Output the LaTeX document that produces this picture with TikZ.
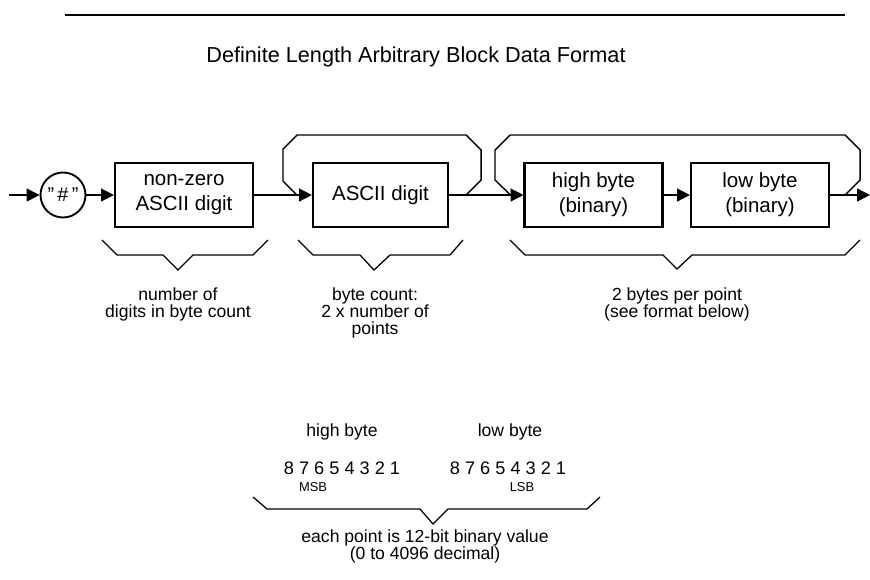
\documentclass[tikz,border=0pt]{standalone}
\usepackage{fontspec}
\setmainfont{Liberation Sans}
\usetikzlibrary{arrows.meta, positioning, calc}
\tikzset{
  synbox/.style = {draw, line width=1.8pt, minimum width=4.14cm, minimum height=1.9cm,
                   align=center, font=\fontsize{17.5}{21.5}\selectfont, inner sep=2pt},
  term/.style   = {circle, draw, line width=1.6pt, minimum size=1.35cm, inner sep=0pt,
                   font=\fontsize{17}{20}\selectfont},
  flow/.style   = {-{Triangle[length=11pt,width=11pt]}, line width=1.2pt},
  loopline/.style = {line width=1.2pt},
  brace/.style  = {line width=1.1pt},
  lbl/.style    = {align=center, font=\fontsize{15}{14.8}\selectfont, inner sep=1pt},
  bits/.style   = {font=\fontsize{15.5}{16}\selectfont, inner sep=1pt},
  tag/.style    = {font=\fontsize{11}{12}\selectfont, inner sep=1pt},
}

\begin{document}
\begin{tikzpicture}[x=0.03cm, y=-0.03cm]
  \useasboundingbox (0,0) rectangle (870,579);
  % heading
  \draw[line width=1.2pt] (65,15) -- (845,15);
  \node[font=\fontsize{18.5}{20}\selectfont] (title) at (416,57) {Definite Length Arbitrary Block Data Format};

  % syntax line
  \coordinate (start) at (9,195);
  \node[term] (hash) at (63,195) {\symbol{34}\,\#\,\symbol{34}};
  \node[synbox] (nzdigit) at (184,195) {non-zero\\ASCII digit};
  \node[synbox, minimum width=4.05cm] (digit) at (380.5,195) {ASCII digit};
  \node[synbox] (hibyte) at (593.5,195) {high byte\\(binary)};
  \node[synbox] (lobyte) at (760,195) {low byte\\(binary)};
  \coordinate (exit) at (870,195);

  \draw[flow] (start) -- (hash);
  \draw[flow] (hash) -- (nzdigit);
  \draw[flow] (nzdigit) -- (digit);
  \draw[flow] (digit) -- (hibyte);
  \draw[flow] (hibyte) -- (lobyte);
  \draw[flow] (lobyte) -- (exit);

  % repeat loops
  \draw[loopline] ($(digit.east)+(17,0)$) -- ++(15,-15) -- ++(0,-30) -- ++(-15,-15)
    -- (297,135) -- ++(-14,14) -- ++(0,32) -- ($(digit.west)+(-15,0)$);
  \draw[loopline] ($(lobyte.east)+(15,0)$) -- ++(15,-15) -- ++(0,-30) -- ++(-15,-15)
    -- (510,135) -- ++(-15,15) -- ++(0,30) -- ($(hibyte.west)+(-13,0)$);

  % braces and notes
  \draw[brace] (102,240) -- (117,255) -- (163,255) -- (178,270) -- (193,255) -- (253,255) -- (268,240);
  \draw[brace] (298,240) -- (313,255) -- (360,255) -- (374,270) -- (390,255) -- (450,255) -- (463,240);
  \draw[brace] (510,240) -- (525,255) -- (663,255) -- (677,269) -- (692,255) -- (845,255) -- (860,240);
  \node[lbl, anchor=north] (nznote) at (178,286) {number of\\digits in byte count};
  \node[lbl, anchor=north] (countnote) at (375,286) {byte count:\\2 x number of\\points};
  \node[lbl, anchor=north] (bytenote) at (677,286) {2 bytes per point\\(see format below)};

  % point format
  \node[lbl] (hilabel) at (342,432) {high byte};
  \node[lbl] (lolabel) at (510,432) {low byte};
  \node[bits] (hibits) at (342,468) {8 7 6 5 4 3 2 1};
  \node[bits] (lobits) at (508,468) {8 7 6 5 4 3 2 1};
  \node[tag] (msb) at (313,487) {MSB};
  \node[tag] (lsb) at (522,487) {LSB};
  \draw[brace] (253,497) -- (267,509) -- (420,509) -- (433,524) -- (448,509) -- (587,509) -- (600,497);
  \node[lbl, anchor=north] (pointnote) at (425,528) {each point is 12-bit binary value\\(0 to 4096 decimal)};
\end{tikzpicture}
\end{document}
